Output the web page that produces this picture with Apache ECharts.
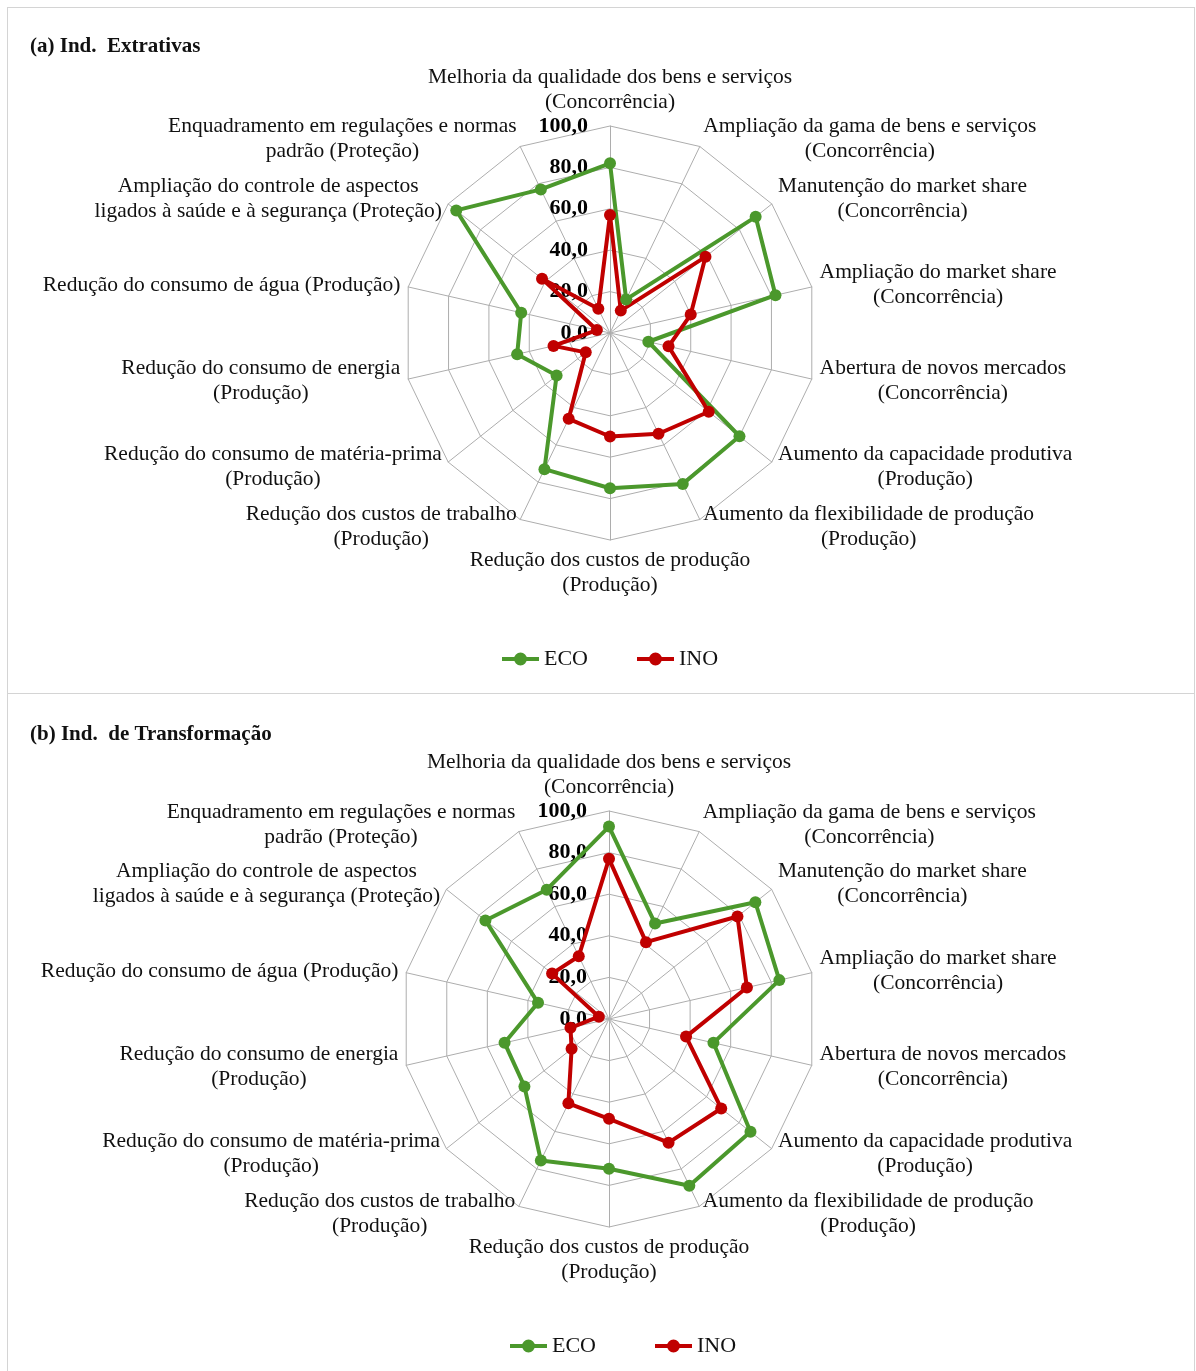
<!DOCTYPE html>
<html>
<head>
<meta charset="utf-8">
<script src="https://cdn.jsdelivr.net/npm/echarts@6/dist/echarts.min.js"></script>
<style>
  html, body { margin: 0; padding: 0; background: #fff; }
  #chart { position: absolute; left: 0; top: 0; width: 1196px; height: 1371px; }
  .panel { position: absolute; border: 1px solid #d4d4d4; box-sizing: border-box; }
</style>
</head>
<body>
<div class="panel" style="left:7px;top:7px;width:1188px;height:687px"></div>
<div class="panel" style="left:7px;top:693px;width:1188px;height:700px"></div>
<div id="chart"></div>
<script>
// Motivos para inovar / eco-inovar: percentual de empresas por objetivo
const categories = [
  'Melhoria da qualidade dos bens e serviços\n(Concorrência)',
  'Ampliação da gama de bens e serviços\n(Concorrência)',
  'Manutenção do market share\n(Concorrência)',
  'Ampliação do market share\n(Concorrência)',
  'Abertura de novos mercados\n(Concorrência)',
  'Aumento da capacidade produtiva\n(Produção)',
  'Aumento da flexibilidade de produção\n(Produção)',
  'Redução dos custos de produção\n(Produção)',
  'Redução dos custos de trabalho\n(Produção)',
  'Redução do consumo de matéria-prima\n(Produção)',
  'Redução do consumo de energia\n(Produção)',
  'Redução do consumo de água (Produção)',
  'Ampliação do controle de aspectos\nligados à saúde e à segurança (Proteção)',
  'Enquadramento em regulações e normas\npadrão (Proteção)'
];

const seriesNames = ['ECO', 'INO'];
const panelTitles = ['(a) Ind.  Extrativas', '(b) Ind.  de Transformação'];

// (a) Indústrias extrativas
const ecoExtrativas = [82, 18, 90, 82, 19, 80, 81, 75, 73, 33, 46, 44, 95, 77];
const inoExtrativas = [57, 12, 59, 40, 29, 61, 54, 50, 46, 15, 28, 6.5, 42, 13];

// (b) Indústrias de transformação
const ecoTransformacao = [92.5, 51, 90, 84, 51.5, 87, 89, 72, 75.5, 52, 51.5, 35, 76, 69];
const inoTransformacao = [77, 41, 79, 68, 38, 69, 66, 48, 45, 23, 19, 5, 35, 33.5];

// scale ticks: 0,0 ... 100,0
const tickValues = [0, 20, 40, 60, 80, 100];

const FONT = "'Liberation Serif', 'Times New Roman', serif";
const GREEN = '#4b982c';
const RED = '#c00000';
const GRID = '#adadad';

// radar indicators run counter-clockwise; list them so the categories read clockwise from the top
const order = [0];
for (let i = categories.length - 1; i >= 1; i--) order.push(i);
const reorder = arr => order.map(i => arr[i]);

const tickMin = tickValues[0];
const tickMax = tickValues[tickValues.length - 1];
const fmtTick = v => Number(v).toFixed(1).replace('.', ',');

function indicators() {
  return reorder(categories).map((name, k) => {
    const ind = { name: name, min: tickMin, max: tickMax };
    if (k === 0) {
      ind.axisLabel = {
        show: true,
        color: '#000',
        fontFamily: FONT,
        fontSize: 22,
        fontWeight: 'bold',
        margin: 22,
        formatter: fmtTick
      };
    }
    return ind;
  });
}

function radar(center, radius) {
  return {
    center: center,
    radius: radius,
    startAngle: 90,
    splitNumber: tickValues.length - 1,
    shape: 'polygon',
    nameGap: 8,
    indicator: indicators(),
    axisName: {
      color: '#111',
      fontFamily: FONT,
      fontSize: 21.5,
      lineHeight: 25,
      formatter: name => name.split('\n').map(l => '{c|' + l + '}').join('\n'),
      rich: {
        c: { align: 'center', color: '#111', fontFamily: FONT, fontSize: 21.5, lineHeight: 25 }
      }
    },
    axisLine: { lineStyle: { color: GRID, width: 1 } },
    splitLine: { lineStyle: { color: GRID, width: 1 } },
    splitArea: { show: false },
    axisTick: { show: false },
    axisLabel: { show: false }
  };
}

function radarSeries(radarIndex, eco, ino) {
  const colors = [GREEN, RED];
  return {
    type: 'radar',
    radarIndex: radarIndex,
    symbol: 'circle',
    symbolSize: 12,
    data: [eco, ino].map((vals, i) => ({
      name: seriesNames[i],
      value: reorder(vals),
      lineStyle: { color: colors[i], width: 4 },
      itemStyle: { color: colors[i] }
    }))
  };
}

// legend glyph: short thick line with a dot in the middle
const lineDot = 'path://M0,4L37,4L37,8L0,8Z M12,6A6.5,6.5 0 1,1 25,6A6.5,6.5 0 1,1 12,6Z';

function legend(left, top, gap) {
  return {
    left: left,
    top: top,
    itemGap: gap,
    itemWidth: 37,
    itemHeight: 13,
    icon: lineDot,
    data: seriesNames,
    textStyle: { color: '#111', fontFamily: FONT, fontSize: 22 },
    selectedMode: false
  };
}

const chart = echarts.init(document.getElementById('chart'), null, { renderer: 'canvas' });
chart.setOption({
  animation: false,
  backgroundColor: 'transparent',
  title: [
    { text: panelTitles[0], left: 25, top: 31,
      textStyle: { fontFamily: FONT, fontSize: 21, fontWeight: 'bold', color: '#111' } },
    { text: panelTitles[1], left: 25, top: 719,
      textStyle: { fontFamily: FONT, fontSize: 21, fontWeight: 'bold', color: '#111' } }
  ],
  legend: [legend(497, 643, 49), legend(505, 1330, 59)],
  radar: [radar([610, 333], 207), radar([609, 1019], 208)],
  series: [
    radarSeries(0, ecoExtrativas, inoExtrativas),
    radarSeries(1, ecoTransformacao, inoTransformacao)
  ]
});
</script>
</body>
</html>
